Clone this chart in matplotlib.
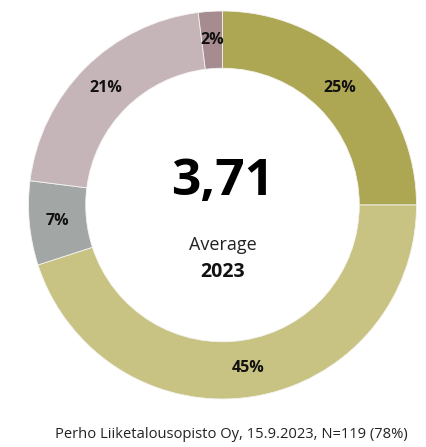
import matplotlib
matplotlib.use("Agg")
import matplotlib.pyplot as plt
import numpy as np

shares = [25, 45, 7, 21, 2]
labels = ["25%", "45%", "7%", "21%", "2%"]
colors = ["#ADA652", "#C8C283", "#A2A7A6", "#C6B5B8", "#A68C91"]
average = "3,71"
subtitle = "Average"
year = "2023"
footer = "Perho Liiketalousopisto Oy, 15.9.2023, N=119 (78%)"

plt.rcParams['font.family'] = ['Open Sans', 'DejaVu Sans']

fig = plt.figure(figsize=(4.27, 4.47), dpi=100)
ax = fig.add_axes([28.5/427, 48/447, 388/427, 388/447])
width = 0.295
wedges, _ = ax.pie(shares, colors=colors, startangle=90, counterclock=False,
                   radius=1.0, wedgeprops=dict(width=width, edgecolor="#F4F4F0", linewidth=0.6))
cum = 0
for s, lab in zip(shares, labels):
    mid = 90 - (cum + s / 2) / sum(shares) * 360
    r = 1 - width / 2
    ax.text(r * np.cos(np.radians(mid)), r * np.sin(np.radians(mid)), lab,
            ha="center", va="center", fontsize=11.5, fontweight="bold", color="#111111")
    cum += s

ax.text(0, 0.12, average, ha="center", va="center", fontsize=37, fontweight="bold", color="#000000")
ax.text(0, -0.205, subtitle, ha="center", va="center", fontsize=13, color="#222222")
ax.text(0, -0.345, year, ha="center", va="center", fontsize=14, fontweight="bold", color="#111111")
ax.set_xlim(-1, 1)
ax.set_ylim(-1, 1)
ax.set_aspect("equal")
ax.axis("off")

fig.text(408/427, 1 - 435/447, footer, ha="right", va="center", fontsize=10.6, color="#222222")
fig.savefig("out.png", dpi=100)
